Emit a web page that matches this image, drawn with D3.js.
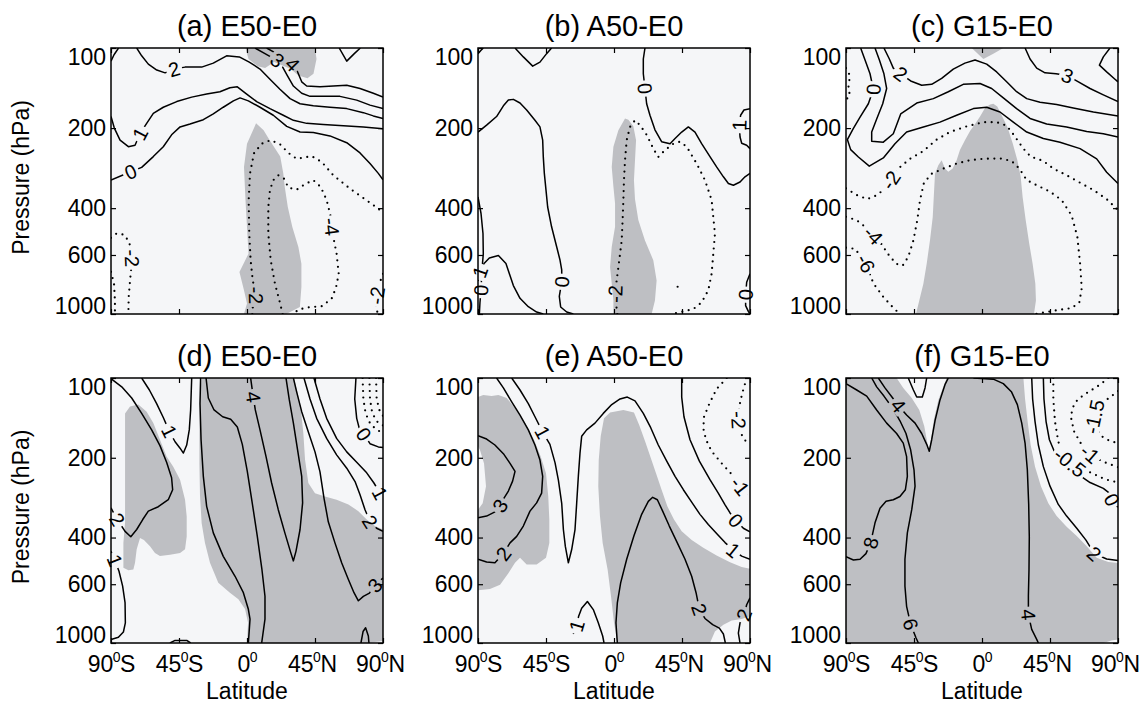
<!DOCTYPE html>
<html>
<head>
<meta charset="utf-8">
<script src="https://cdn.jsdelivr.net/npm/d3@7"></script>
<style>
  body { margin: 0; background: #fff; }
  svg { display: block; }
</style>
</head>
<body>
<svg id="chart" width="1142" height="704"></svg>
<script>
// ---------- axes ----------
const latTicks = [-90, -45, 0, 45, 90];
const latTickText = [["90", "S"], ["45", "S"], ["0", ""], ["45", "N"], ["90", "N"]];
const pressureTicks = [100, 200, 400, 600, 1000];
const panelTitles = ["(a) E50-E0", "(b) A50-E0", "(c) G15-E0", "(d) E50-E0", "(e) A50-E0", "(f) G15-E0"];

// ---------- (a) E50-E0 ----------
// shaded = significant; points are [latitude, pressure hPa]
const aShade = [
  [[-1,100],[1,110],[7,117],[12,119],[18,113],[29,120],[34,127],[40,130],[44,125],[46,110],[45,100]],
  [[6,192],[0,229],[-2,280],[-1,373],[0,471],[1,593],[-5,695],[-2,814],[0,914],[-2,1000],[26,1000],[35,941],[36,791],[36,647],[34,560],[30,471],[27,396],[25,333],[24,296],[22,256],[15,222],[11,204]]
];
const aLines = [
  {level: 5, pts: [[61,100],[66,112],[71,105],[75,100]]},
  {level: 4, pts: [[13,100],[19.6,105],[25.8,111],[30.2,115],[33.5,123],[36.2,134],[39.5,139],[48.3,140],[57.1,139],[66,138],[74.8,142],[83.6,148],[90,153]]},
  {level: 3, pts: [[5.3,100],[11.9,105],[15.7,108],[20.1,111],[23.6,118],[26.7,127],[30.7,139],[36.2,148],[41.7,152],[50.5,152],[61.5,152],[72.6,157],[81.4,164],[90,169]]},
  {level: 3, pts: [[-90,112],[-88,106],[-85,100]]},
  {level: 2, pts: [[-73,100],[-69.7,107],[-65.3,115],[-59.7,121],[-54.2,124],[-48.3,120],[-41,118],[-30,118],[-22.3,114],[-13.5,107],[-5.1,108],[1.5,113],[8.6,120],[15.2,131],[21.8,143],[28.5,155],[35.1,162],[43.9,165],[54.9,167],[66,169],[77,175],[83.6,180],[90,184]]},
  {level: 1, pts: [[-90,181],[-87.8,200],[-84,222],[-78.5,235],[-74.1,232],[-70.8,210],[-66.4,192],[-62,176],[-55.4,167],[-46.5,159],[-36.6,153],[-26.7,149],[-17.9,146],[-11.3,141],[-6.4,140],[-0.2,149],[6.4,159],[15.2,169],[24,179],[30.7,187],[39.5,192],[50.5,194],[63.8,196],[77,198],[90,201]]},
  {level: 0, pts: [[-90,314],[-77,292],[-69.7,281],[-62,256],[-55.4,235],[-49.9,212],[-44.3,198],[-37.7,193],[-28.9,186],[-22.3,177],[-15.7,167],[-9,158],[-4.6,154],[0.9,158],[8.6,167],[17.4,179],[26.3,197],[35.1,207],[43.9,208],[54.9,214],[66,227],[74.8,248],[81.4,272],[86.9,296],[90,313]]},
  {level: -2, pts: [[-90,517],[-86.3,498],[-81.4,503],[-77.9,537],[-77,575],[-76.1,617],[-76.5,664],[-77.4,749],[-78.3,865],[-78.5,1000]]},
  {level: -4, pts: [[-90,694],[-88,770],[-87.4,890],[-87.4,1000]]},
  {level: -2, pts: [[3.5,1000],[4.2,889],[6,851],[3.8,748],[2.4,628],[1.5,499],[1.1,374],[2,296],[4.6,249],[9.7,229],[15.7,222],[21.8,230],[27.4,248],[32.9,261],[42.8,255],[49.4,268],[57.1,301],[68.2,338],[79.2,374],[86.9,402],[90,418]]},
  {level: -2, pts: [[90,706],[87.6,770],[85.8,851],[85.4,930],[86.5,1000]]},
  {level: -4, pts: [[23.6,1000],[21.4,889],[18.5,769],[15.7,628],[14.1,499],[14.1,397],[15.2,342],[17.4,314],[20.7,301],[24.5,310],[27.4,335],[32.9,341],[38.4,325],[43.9,314],[48.8,333],[52.7,373],[55.4,430],[56,470],[57.1,513],[59.3,594],[60.7,706],[58.9,796],[56,876],[49.4,935],[40.6,944],[34,963],[30.7,1000]]}
];
const aLabels = [[3,20.1,111],[4,30.2,115],[2,-48.3,120],[1,-70.8,210],[0,-77,292],[-2,-76.1,617],[-2,6,851],[-4,56,470],[-2,85.8,851]];

// ---------- (b) A50-E0 ----------
const bShade = [
  [[7.3,184],[2.9,204],[-0.4,235],[-1.5,280],[-0.4,332],[0.7,384],[0.7,470],[-1.5,559],[-2.6,666],[-1.5,769],[-0.4,889],[-0.4,1000],[24.9,1000],[27.1,889],[28.2,748],[26,628],[20.5,529],[16.1,443],[13.9,370],[13.2,314],[13.9,264],[14.6,222],[12.8,197],[9.5,186]]
];
const bLines = [
  {level: 1, pts: [[-90,105],[-88,102],[-86.5,100]]},
  {level: 1, pts: [[-65.5,100],[-60,108],[-53.8,117],[-49,113],[-44.6,105],[-41.3,100]]},
  {level: 0, pts: [[-90,207],[-84.3,195],[-77.7,181],[-73.2,165],[-69.9,157],[-66.6,156],[-62.2,161],[-57.8,171],[-52.3,187],[-49,198],[-47.2,222],[-46.8,256],[-46.1,296],[-45,342],[-43.9,396],[-41.3,470],[-37.9,560],[-35.7,628],[-34.6,682],[-34.6,757],[-36.2,859],[-35.3,941],[-31.3,983],[-26.9,1000]]},
  {level: 1, pts: [[-90,752],[-88.7,694],[-86,646],[-82.5,616],[-76.5,603],[-71.5,646],[-66.6,782],[-62.2,873],[-56.7,939],[-51.2,983],[-46.8,1000]]},
  {level: 0, pts: [[-90,363],[-88,419],[-86.7,498],[-86.5,595],[-87.4,684],[-88,814],[-88.7,905],[-89.1,1000]]},
  {level: 0, pts: [[20.5,100],[19.4,110],[19.4,125],[20.5,142],[21.6,162],[23.8,179],[27.1,203],[31.5,225],[37.1,229],[40.4,219],[44.8,207],[49.2,198],[53.6,207],[58,229],[63.5,256],[67.9,280],[72.4,305],[75.7,323],[79,328],[83.4,319],[86.7,305],[90,296]]},
  {level: 1, pts: [[90,169],[86,171],[83.8,179],[82.9,195],[83.4,216],[84.5,228],[87.8,232],[90,239]]},
  {level: 0, pts: [[90,706],[87.8,760],[87.1,846],[87.1,930],[88.9,978],[90,1000]]},
  {level: -2, pts: [[2.2,1000],[1.3,909],[0.7,841],[1.8,746],[3.5,627],[5.1,529],[5.7,444],[6.2,373],[6.6,314],[7.3,264],[8.4,222],[10.6,198],[13.9,187],[17.2,195],[21.6,212],[26,239],[29.3,257],[33.8,242],[39.3,229],[43.7,225],[48.1,235],[54.7,272],[60.2,314],[64.6,373],[65.7,432],[66.8,499],[65.7,595],[64.6,706],[62.4,814],[58,905],[52.5,958],[44.8,981],[38.2,1000]]},
  {level: -2, pts: [[42.1,790],[42.2,797]]}
];
const bLabels = [[0,-34.6,757],[1,-88.7,694],[0,-88,814],[0,20.5,142],[1,82.9,195],[0,87.1,846],[-2,0.7,841]];

// ---------- (c) G15-E0 ----------
const cShade = [
  [[-6.8,100],[0.9,110],[7.5,105],[14.1,100]],
  [[5.3,163],[2,168],[-1.3,181],[-4.6,193],[-7.9,205],[-11.3,222],[-14.6,242],[-16.8,264],[-19.4,284],[-22.3,292],[-24.5,284],[-26.7,264],[-28.9,276],[-31.1,297],[-31.8,352],[-32.6,432],[-34.4,527],[-36.6,647],[-38.8,769],[-41.5,889],[-43.7,1000],[34.4,1000],[35.7,889],[35.3,769],[33.5,647],[31.3,545],[28.9,443],[26.9,364],[25.6,305],[23.4,264],[20.3,228],[16.8,198],[13,179],[10.1,166],[7.5,162]]
];
const cLines = [
  {level: 0, pts: [[-80.3,100],[-77.4,111],[-74.1,125],[-71.9,143],[-75.2,162],[-80.7,182],[-85.2,201],[-89.1,221],[-86.9,241],[-81.8,257],[-74.6,278],[-65.3,259],[-57.6,229],[-49.9,207],[-38.8,198],[-27.8,190],[-16.8,179],[-5.7,169],[3.1,167],[11.9,174],[20.7,190],[29.6,207],[40.6,219],[51.6,226],[64.9,239],[75.9,261],[82.5,293],[90,323]]},
  {level: 1, pts: [[-70.8,100],[-67.9,111],[-64.9,125],[-63.1,142],[-65.7,162],[-69.7,185],[-73,207],[-73,224],[-65.3,226],[-58.7,210],[-53.8,177],[-43.2,161],[-32.2,155],[-22.3,146],[-12.4,137],[-1.3,136],[6.4,142],[14.1,154],[22.9,169],[31.8,184],[42.8,193],[56,198],[69.3,206],[80.3,210],[90,216]]},
  {level: 2, pts: [[-64.9,100],[-61.3,110],[-58.7,119],[-53.8,125],[-47.2,133],[-39.9,138],[-33.3,137],[-26.7,130],[-19,120],[-11.3,114],[-4.6,111],[3.1,115],[9.7,123],[16.3,134],[22.9,146],[29.6,155],[38.4,160],[49.4,163],[60.4,168],[73.7,174],[90,180]]},
  {level: 3, pts: [[28.5,100],[31.8,110],[36.2,119],[41.7,124],[49,125],[56.5,127],[63.8,134],[71.5,142],[80.3,150],[90,159]]},
  {level: 4, pts: [[84.7,100],[80.3,108],[77.7,116],[82.5,123],[88,131],[90,134]]},
  {level: -2, pts: [[-90,119],[-87.4,127],[-88.5,142],[-87.4,150],[-90,157]]},
  {level: -2, pts: [[-90,337],[-82.9,357],[-75.9,370],[-69.3,357],[-64.2,337],[-60.4,314],[-55.4,284],[-47.6,261],[-38.8,244],[-30,221],[-21.2,207],[-10.1,197],[0.9,190],[9.7,190],[16.3,196],[20.7,211],[27.4,239],[32.2,256],[40.6,266],[47.2,284],[56,301],[64.9,321],[73.7,342],[82.5,370],[90,407]]},
  {level: -4, pts: [[-90,431],[-82.9,444],[-76.8,473],[-71.9,505],[-67.1,540],[-62,597],[-56.9,647],[-52.5,658],[-48.8,610],[-45.4,529],[-42.8,443],[-41,373],[-38.4,321],[-33.3,297],[-25.6,284],[-16.8,272],[-7.9,264],[0.9,261],[11.9,260],[19.6,266],[24.7,284],[29.6,314],[36.2,328],[45,347],[52.7,373],[59.3,426],[63.1,513],[64.9,646],[66,800],[64.4,905],[59.3,950],[50.5,966],[41.7,986],[35.1,1000]]},
  {level: -6, pts: [[-90,563],[-84,569],[-76.8,645],[-71.9,767],[-65.3,863],[-58.7,948],[-54.3,1000]]}
];
const cLabels = [[0,-71.9,143],[2,-53.8,125],[3,56.5,127],[-2,-60.4,314],[-4,-71.9,505],[-6,-76.8,645]];

// ---------- (d) E50-E0 ----------
const dShade = [
  [[-80.7,136],[-77.4,128],[-71.9,126],[-66.4,134],[-62,148],[-57.6,171],[-53.2,198],[-48.8,216],[-44.3,242],[-41,288],[-39.9,333],[-39.9,396],[-41,443],[-44.3,457],[-50.9,464],[-57.6,470],[-60.9,457],[-64.2,431],[-68.2,409],[-70.8,402],[-73,443],[-74.1,498],[-75.2,528],[-78.5,531],[-81.8,520],[-81.8,419],[-80.7,352],[-80.7,263],[-80.7,198],[-80.7,158]],
  [[-30,100],[-31.1,117],[-31.5,157],[-31.5,210],[-31.1,278],[-30,353],[-27.8,419],[-24.5,498],[-19,593],[-11.3,646],[-5.7,684],[-1.3,745],[0.7,838],[0,1000],[79.2,1000],[90,983],[90,373],[84.7,362],[79.2,342],[73.7,318],[67.1,300],[59.3,288],[51.6,280],[45,272],[40.6,249],[38.4,203],[37.3,162],[35.7,132],[33.5,114],[31.1,100]]
];
const dLines = [
  {level: 4, pts: [[2.4,100],[3.3,109],[4.2,118],[5.5,132],[8.6,157],[12.6,198],[16.3,249],[20.7,314],[25.1,385],[28.9,455],[30.7,490],[32.4,451],[35.1,373],[36.8,296],[36.2,235],[33.5,187],[30.7,148],[28,121],[25.8,100]]},
  {level: 3, pts: [[30.7,100],[32.9,113],[36.2,134],[40.6,160],[45,190],[48.3,226],[51,285],[53.8,349],[58.2,419],[62.7,499],[67.1,576],[70.8,646],[73.7,693],[77,667],[81,648],[84.7,605],[90,569]]},
  {level: 2, pts: [[37.7,100],[41.7,120],[46.1,142],[52.7,169],[59.3,195],[66,219],[71.5,246],[74.8,276],[78.1,314],[81.4,348],[85.8,369],[90,379]]},
  {level: 1, pts: [[44.3,100],[48.3,120],[52.7,142],[59.3,169],[66,190],[72.6,208],[79.2,228],[84,249],[88,272],[90,288]]},
  {level: 0, pts: [[72.1,100],[71.3,120],[72.6,142],[74.3,155],[77.4,163],[81.4,177],[86.9,182],[90,183]]},
  {level: -1, pts: [[76.5,100],[77,120],[78.5,136],[81.8,150],[86.9,158],[90,161]]},
  {level: -2, pts: [[81,100],[81.4,120],[82.9,136],[86.5,147],[90,151]]},
  {level: -3, pts: [[85.4,100],[85.8,120],[87.6,132],[90,139]]},
  {level: 2, pts: [[-89.6,101],[-82.9,108],[-76.3,119],[-69.7,136],[-63.1,157],[-57.6,180],[-53.2,208],[-49.9,238],[-49.2,264],[-52.1,288],[-58.7,306],[-65.3,318],[-69,342],[-73,373],[-76.9,397],[-80.7,379],[-85.8,342],[-88.5,321],[-90,309]]},
  {level: 1, pts: [[-69.7,100],[-64.6,111],[-59.8,125],[-55.4,141],[-51.4,159],[-47.6,174],[-44.3,184],[-42.1,192],[-39.9,179],[-38.2,157],[-37.3,132],[-36.6,100]]},
  {level: 1, pts: [[-90,451],[-87.4,488],[-84.7,536],[-82.3,610],[-80.7,704],[-80.5,839],[-81.8,909],[-85.1,952],[-90,970]]},
  {level: 1, pts: [[-51,1000],[-47.6,978],[-39.9,978],[-37.3,1000]]},
  {level: 3, pts: [[75.4,1000],[76.8,905],[78.5,876],[80.3,941],[80.7,1000]]},
  {level: 2, pts: [[-30.7,100],[-31.1,125],[-30.4,171],[-28.9,235],[-26.7,305],[-22.3,384],[-15.7,471],[-7.9,560],[-2.4,646],[0.9,746],[2,813],[0.9,1000]]},
  {level: 3, pts: [[-27.1,100],[-25.6,119],[-21.8,132],[-16.1,140],[-10.8,143],[-6.4,153],[-3.1,178],[0.2,225],[3.5,297],[6.8,395],[9.9,529],[11.9,666],[11.9,813],[9.7,1000]]}
];
const dLabels = [[4,4.2,118],[1,-51.4,159],[2,-85.8,342],[1,-87.4,488],[0,77.4,163],[1,88,272],[2,81.4,348],[3,84.7,605]];

// ---------- (e) A50-E0 ----------
const eShade = [
  [[-90,118],[-86.5,116],[-81,117],[-76.5,116],[-71,119],[-65.5,130],[-58.9,148],[-52.9,171],[-48.5,198],[-45,229],[-43.5,280],[-42.8,342],[-42.8,419],[-45,477],[-51.2,506],[-57.8,506],[-62.2,477],[-65.5,498],[-69.9,545],[-75.4,603],[-82.1,626],[-90,633],[-90,314],[-86.9,297],[-84.7,256],[-86,210],[-88.7,187],[-90,181]],
  [[-6.6,142],[-2.6,135],[6.2,132],[13.2,135],[16.8,151],[20.5,173],[24.3,200],[27.8,229],[31.5,264],[35.3,305],[39.7,342],[44.8,379],[51.4,409],[59.1,437],[67.9,468],[76.8,496],[84.5,517],[90,525],[90,793],[84.5,812],[77.9,822],[72.4,853],[66.8,904],[63.5,1000],[2.2,1000],[0,839],[-2,664],[-4.2,529],[-7.5,419],[-9.3,332],[-10.4,256],[-10.1,204],[-8.8,166]]
];
const eLines = [
  {level: 3, pts: [[-90,165],[-84.3,170],[-78.8,179],[-73.2,193],[-68.8,210],[-65.5,225],[-67.1,245],[-69.9,267],[-72.8,284],[-75.4,303],[-78.8,320],[-84.3,332],[-90,337]]},
  {level: 2, pts: [[-77.7,100],[-73.2,109],[-67.7,123],[-62.2,138],[-56.7,157],[-52.3,179],[-49,204],[-47.2,235],[-47.9,272],[-51.2,296],[-55.6,318],[-60,362],[-64.4,396],[-68.8,419],[-73.2,460],[-78.8,498],[-84.3,495],[-90,483]]},
  {level: 1, pts: [[-67.7,100],[-62.2,111],[-56.7,125],[-52.3,140],[-47.2,160],[-42.4,178],[-39,209],[-36.8,243],[-34.6,297],[-33.5,373],[-32.2,432],[-30.2,498],[-28,444],[-25.8,373],[-24.7,297],[-23.6,235],[-22.5,192],[-21.4,166],[-18.1,157],[-12.6,148],[-7.1,136],[-1.5,126],[4,120],[8.8,118],[13.9,122],[19.4,136],[24.3,154],[29.3,179],[34.9,206],[40.4,235],[45.9,264],[51.4,294],[56.9,327],[62.4,357],[67.9,386],[73.5,418],[79,446],[84.5,470],[90,483]]},
  {level: 0, pts: [[44.8,100],[44.8,118],[46.3,140],[50.3,171],[56.5,206],[63.5,242],[69,272],[73.5,301],[76.8,323],[80.7,345],[85.6,369],[90,381]]},
  {level: -1, pts: [[74.6,100],[67.9,110],[63.1,125],[59.6,140],[59.1,155],[60.9,171],[64.6,189],[71.3,210],[77.9,231],[83.4,256],[87.8,273],[90,280]]},
  {level: -2, pts: [[87.8,100],[84.9,114],[82.9,128],[82.5,144],[84,162],[87.4,174],[90,179]]},
  {level: 1, pts: [[-26.9,925],[-24.7,862],[-23.4,792],[-21.4,739],[-17.6,697],[-13.7,748],[-10.4,839],[-7.5,941],[-6.6,1000]]},
  {level: 2, pts: [[2.2,1000],[1.3,839],[2.2,706],[4.4,593],[8.4,483],[13.2,394],[18.3,327],[22.7,292],[25.6,282],[28.7,288],[32.2,318],[36.6,362],[41.9,419],[47,483],[51.4,560],[54.3,646],[56.5,746],[60.2,808],[65.3,853],[69.7,879],[72.4,925],[73.7,1000]]},
  {level: 2, pts: [[83.4,1000],[82.3,918],[83.4,839],[86,783],[87.8,717],[90,676]]}
];
const eLabels = [[3,-75.4,303],[2,-73.2,460],[1,-47.2,160],[1,79,446],[0,80.7,345],[-1,83.4,256],[-2,82.5,144],[1,-24.7,862],[2,56.5,746],[2,86,783]];

// ---------- (f) G15-E0 ----------
const fShade = [
  [[-90,100],[90,100],[90,1000],[-90,1000]]
];
// areas inside the shaded field that are not significant
const fClear = [
  [[27.4,100],[28.5,120],[30.2,146],[32.2,179],[35.1,216],[39,256],[43.9,297],[49.4,332],[56,364],[62.7,395],[69.3,431],[75.9,477],[83.6,495],[90,499],[90,100]],
  [[-56.5,100],[-52.1,109],[-46.5,119],[-41.5,132],[-38.2,152],[-36,178],[-35.1,187],[-33.8,171],[-31.8,143],[-28.9,121],[-25.6,108],[-23.4,100]],
  [[80.3,1000],[85.8,978],[90,970],[90,1000]]
];
const fLines = [
  {level: 8, pts: [[-90,105],[-82.9,111],[-76.3,117],[-69.7,132],[-63.1,148],[-56.5,162],[-52.1,176],[-49.9,198],[-49.4,235],[-50.7,264],[-54.3,280],[-58.7,288],[-63.5,292],[-67.5,310],[-70.8,352],[-73.7,419],[-76.8,460],[-80.7,483],[-85.1,486],[-90,472]]},
  {level: 6, pts: [[-73,100],[-69.7,108],[-64.9,117],[-59.1,130],[-54.3,145],[-50.3,162],[-47.2,187],[-45,222],[-44.3,256],[-46.5,314],[-49.4,384],[-51,483],[-51,610],[-49.9,727],[-47.2,850],[-43.7,955],[-42.1,1000]]},
  {level: 4, pts: [[-68.6,100],[-64.2,109],[-59.1,119],[-55.4,127],[-49.9,138],[-44.3,148],[-39.9,162],[-36.6,178],[-34.9,189],[-33.3,171],[-31.1,145],[-27.8,121],[-24.5,106],[-22.3,100]]},
  {level: 3, pts: [[-48.8,100],[-45.4,111],[-43.2,118],[-39.5,118],[-37.7,109],[-36.6,100]]},
  {level: 4, pts: [[-5.7,100],[7.5,101],[14.1,105],[19.6,113],[23.4,126],[26.3,148],[28.5,176],[30,222],[30.9,300],[31.3,397],[31.1,529],[30.7,664],[30.7,782],[32.9,889],[36.2,969],[37.3,1000]]},
  {level: 2, pts: [[32.9,100],[33.5,120],[35.1,146],[37.3,179],[40.6,216],[45,256],[50.5,300],[56,332],[62.7,369],[68.8,409],[74.3,460],[82.5,482],[90,488]]},
  {level: 0, pts: [[40.6,100],[41,120],[42.4,146],[44.6,171],[48.3,192],[54.3,210],[62.7,229],[71.5,248],[80.3,261],[84.3,272],[86,288],[88.2,301],[90,307]]},
  {level: -0.5, pts: [[47.2,100],[47.2,120],[48.3,146],[50.5,174],[53.8,194],[58.2,208],[64.9,218],[73.7,230],[81.4,241],[90,248]]},
  {level: -1, pts: [[83.6,100],[78.1,106],[72.6,111],[67.1,116],[62.7,122],[59.8,130],[58.9,141],[60.9,159],[65.3,176],[71.5,193],[79.2,206],[90,217]]},
  {level: -1.5, pts: [[90,112],[85.8,117],[81.4,122],[77.7,129],[74.3,140],[74.8,154],[79.2,166],[84.7,173],[90,176]]}
];
const fLabels = [[8,-73.7,419],[6,-47.2,850],[4,-55.4,127],[4,30.7,782],[2,74.3,460],[0,86,288],[-0.5,58.2,208],[-1,71.5,193],[-1.5,74.3,140]];

const panels = [
  {shade: aShade, clear: [], lines: aLines, labels: aLabels},
  {shade: bShade, clear: [], lines: bLines, labels: bLabels},
  {shade: cShade, clear: [], lines: cLines, labels: cLabels},
  {shade: dShade, clear: [], lines: dLines, labels: dLabels},
  {shade: eShade, clear: [], lines: eLines, labels: eLabels},
  {shade: fShade, clear: fClear, lines: fLines, labels: fLabels}
];

// ---------- layout & style ----------
const FONT = '"Liberation Sans", Arial, Helvetica, sans-serif';
const BG = "#f5f6f8", SHADE = "#bebfc3";
const colX = [111, 478, 846], rowY = [48, 378], W = 272, rowH = [266, 265];

const svg = d3.select("#chart");
const defs = svg.append("defs");

panels.forEach((pn, i) => {
  const col = i % 3, row = Math.floor(i / 3);
  const H = rowH[row];
  const x = d3.scaleLinear().domain([-90, 90]).range([0, W]);
  const y = d3.scaleLog().domain([100, 1000]).range([0, H]);
  const path = d3.line().x(d => x(d[0])).y(d => y(d[1]));

  const g = svg.append("g").attr("transform", `translate(${colX[col]},${rowY[row]})`);
  const clipId = "plotclip" + i, maskId = "labelgap" + i;
  defs.append("clipPath").attr("id", clipId)
    .append("rect").attr("width", W).attr("height", H);

  const body = g.append("g").attr("clip-path", `url(#${clipId})`);
  body.append("rect").attr("width", W).attr("height", H).attr("fill", BG);
  body.selectAll("path.shade").data(pn.shade).join("path")
    .attr("class", "shade").attr("d", d => path(d) + "Z").attr("fill", SHADE);
  body.selectAll("path.clear").data(pn.clear).join("path")
    .attr("class", "clear").attr("d", d => path(d) + "Z").attr("fill", BG);

  const lineG = body.append("g").attr("mask", `url(#${maskId})`);
  lineG.selectAll("path.iso").data(pn.lines).join("path")
    .attr("class", "iso")
    .attr("d", d => path(d.pts))
    .attr("fill", "none")
    .attr("stroke", "#000")
    .attr("stroke-width", d => d.level < 0 ? 2.2 : 1.5)
    .attr("stroke-dasharray", d => d.level < 0 ? "0 6.5" : null)
    .attr("stroke-linecap", d => d.level < 0 ? "round" : "butt")
    .attr("stroke-linejoin", "round");

  // inline contour labels, rotated along their line
  function tangent(lvl, px, py) {
    let best = Infinity, ang = 0;
    pn.lines.forEach(l => {
      if (l.level !== lvl) return;
      const P = l.pts.map(d => [x(d[0]), y(d[1])]);
      P.forEach((q, k) => {
        const dd = (q[0] - px) ** 2 + (q[1] - py) ** 2;
        if (dd < best) {
          best = dd;
          const a = P[Math.max(0, k - 1)], b = P[Math.min(P.length - 1, k + 1)];
          ang = Math.atan2(b[1] - a[1], b[0] - a[0]) * 180 / Math.PI;
        }
      });
    });
    if (ang > 90) ang -= 180;
    if (ang < -90) ang += 180;
    return ang;
  }

  const mask = defs.append("mask").attr("id", maskId)
    .attr("maskUnits", "userSpaceOnUse")
    .attr("x", -10).attr("y", -10).attr("width", W + 20).attr("height", H + 20);
  mask.append("rect").attr("x", -10).attr("y", -10).attr("width", W + 20).attr("height", H + 20).attr("fill", "#fff");

  const labG = g.append("g").attr("font-family", FONT).attr("font-size", 20);
  pn.labels.forEach(([lvl, lat, p]) => {
    const px = x(lat), py = y(p);
    const ang = tangent(lvl, px, py);
    const tr = `translate(${px},${py}) rotate(${ang})`;
    const t = labG.append("text").attr("transform", tr)
      .attr("text-anchor", "middle").attr("dy", "0.36em").text(String(lvl));
    const len = t.node().getComputedTextLength();
    mask.append("rect").attr("transform", tr)
      .attr("x", -len / 2 - 2.5).attr("y", -8).attr("width", len + 5).attr("height", 16)
      .attr("fill", "#000");
  });

  // frame
  g.append("rect").attr("width", W).attr("height", H)
    .attr("fill", "none").attr("stroke", "#000").attr("stroke-width", 1.5);

  // axes with inward ticks
  const yl = g.append("g").call(d3.axisLeft(y).tickValues(pressureTicks).tickSize(-5).tickPadding(5).tickFormat(d3.format("d")));
  yl.select(".domain").remove();
  yl.attr("font-family", FONT).attr("font-size", 23);
  yl.selectAll("line").attr("stroke-width", 1.2);
  yl.selectAll("text").attr("transform", d => d === 100 ? "translate(0,9)" : d === 1000 ? "translate(0,-7.5)" : null);

  const yr = g.append("g").attr("transform", `translate(${W},0)`)
    .call(d3.axisRight(y).tickValues(pressureTicks).tickSize(-5).tickFormat(""));
  yr.select(".domain").remove();
  yr.selectAll("line").attr("stroke-width", 1.2);

  const xt = g.append("g").call(d3.axisTop(x).tickValues(latTicks).tickSize(-5).tickFormat(""));
  xt.select(".domain").remove();
  xt.selectAll("line").attr("stroke-width", 1.2);

  const xb = g.append("g").attr("transform", `translate(0,${H})`)
    .call(d3.axisBottom(x).tickValues(latTicks).tickSize(-5).tickPadding(16).tickFormat(""));
  xb.select(".domain").remove();
  xb.selectAll("line").attr("stroke-width", 1.2);

  if (row === 1) {
    xb.attr("font-family", FONT).attr("font-size", 23);
    xb.selectAll("text").each(function (d) {
      const lab = latTickText[latTicks.indexOf(d)];
      const t = d3.select(this).attr("dy", null).attr("y", 29)
        .attr("transform", lab[1] === "N" ? "translate(-3,0)" : null);
      t.text(null);
      t.append("tspan").text(lab[0]);
      t.append("tspan").attr("dy", -10).attr("dx", -0.5).attr("font-size", 14).text("0");
      t.append("tspan").attr("dy", 10).attr("dx", -0.5).text(lab[1]);
    });
    g.append("text").attr("x", W / 2).attr("y", H + 56)
      .attr("text-anchor", "middle").attr("font-family", FONT).attr("font-size", 23)
      .text("Latitude");
  }

  if (col === 0) {
    const lx = 28.5 - colX[0], ly = H / 2 - 3.5;
    g.append("text").attr("transform", `translate(${lx},${ly}) rotate(-90)`)
      .attr("text-anchor", "middle").attr("font-family", FONT).attr("font-size", 23)
      .text("Pressure (hPa)");
  }

  g.append("text").attr("x", W / 2).attr("y", -12)
    .attr("text-anchor", "middle").attr("font-family", FONT).attr("font-size", 29)
    .text(panelTitles[i]);
});
</script>
</body>
</html>
